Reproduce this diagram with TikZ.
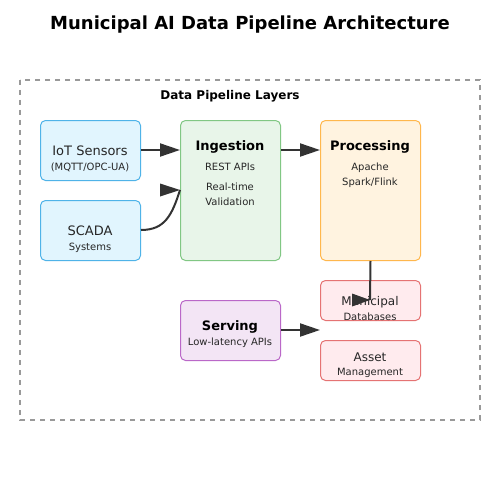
\documentclass[tikz,border=0pt]{standalone}
\usepackage{fontspec}
\setmainfont{DejaVu Sans}
\usetikzlibrary{arrows.meta}
\definecolor{arr}{HTML}{333333}
\definecolor{dashc}{HTML}{999999}
\definecolor{iotF}{HTML}{E1F5FE}\definecolor{iotD}{HTML}{4FB3E8}
\definecolor{ingF}{HTML}{E8F5E9}\definecolor{ingD}{HTML}{81C784}
\definecolor{proF}{HTML}{FFF3E0}\definecolor{proD}{HTML}{FFB74D}
\definecolor{dbF}{HTML}{FFEBEE}\definecolor{dbD}{HTML}{E57373}
\definecolor{srvF}{HTML}{F3E5F5}\definecolor{srvD}{HTML}{BA68C8}
\tikzset{
  boxst/.style={draw, line width=1pt, rounded corners=5pt, minimum width=100pt, inner sep=0pt, anchor=north west},
  txt/.style={anchor=base, inner sep=0pt, text=black!85},
  big/.style={txt, font=\fontsize{13}{15}\selectfont},
  mid/.style={txt, font=\fontsize{12}{14}\selectfont},
  small/.style={txt, font=\fontsize{10}{12}\selectfont},
  hd/.style={txt, text=black, font=\fontsize{13}{15}\selectfont\bfseries},
  conn/.style={draw=arr, line width=2pt},
  arrw/.style={conn, -{Triangle[length=20pt,width=13pt]}},
  headst/.style={fill=arr}
}
\begin{document}
\begin{tikzpicture}[x=1pt,y=-1pt]
\useasboundingbox (0,0) rectangle (500,500);
\fill[white] (0,0) rectangle (500,500);
\node[anchor=base, inner sep=0pt, font=\fontsize{18}{20}\selectfont\bfseries] (title) at (250,30) {Municipal AI Data Pipeline Architecture};
\draw[dashc, line width=1.5pt, dash pattern=on 5pt off 5pt] (20,80) rectangle (480,420);
\node[anchor=base, inner sep=0pt, font=\fontsize{12}{14}\selectfont\bfseries] (layers) at (230,100) {Data Pipeline Layers};
% boxes
\node[boxst, fill=iotF, draw=iotD, minimum height=60pt] (iot) at (40,120) {};
\node[boxst, fill=iotF, draw=iotD, minimum height=60pt] (scada) at (40,200) {};
\node[boxst, fill=ingF, draw=ingD, minimum height=140pt] (ing) at (180,120) {};
\node[boxst, fill=proF, draw=proD, minimum height=140pt] (proc) at (320,120) {};
\node[boxst, fill=dbF, draw=dbD, minimum height=40pt] (db) at (320,280) {};
\node[boxst, fill=dbF, draw=dbD, minimum height=40pt] (asset) at (320,340) {};
\node[boxst, fill=srvF, draw=srvD, minimum height=60pt] (serv) at (180,300) {};
% texts
\node[big] (t1) at (90,155) {IoT Sensors};
\node[small] (t2) at (90,170) {(MQTT/OPC-UA)};
\node[big] (t3) at (90,235) {SCADA};
\node[small] (t4) at (90,250) {Systems};
\node[hd] (t5) at (230,150) {Ingestion};
\node[small] (t6) at (230,170) {REST APIs};
\node[small] (t7) at (230,190) {Real-time};
\node[small] (t8) at (230,205) {Validation};
\node[hd] (t9) at (370,150) {Processing};
\node[small] (t10) at (370,170) {Apache};
\node[small] (t11) at (370,185) {Spark/Flink};
\node[mid] (t12) at (370,305) {Municipal};
\node[small] (t13) at (370,320) {Databases};
\node[mid] (t14) at (370,361) {Asset};
\node[small] (t15) at (370,375) {Management};
\node[hd] (t16) at (230,330) {Serving};
\node[small] (t17) at (230,345) {Low-latency APIs};
% connectors
\draw[arrw] (iot.east |- 0,150) -- (ing.west |- 0,150);
\draw[arrw] (ing.east |- 0,150) -- (proc.west |- 0,150);
\draw[arrw] (serv.east |- 0,330) -- (320,330);
\coordinate (sEnd) at (180,190);
\draw[conn] (scada.east |- 0,230) .. controls (165,230) and (172,215) .. (sEnd);
\fill[headst] (sEnd) -- ++(-20,-6.5) -- ++(0,13) -- cycle;
\coordinate (pEnd) at (370,300);
\draw[conn] (proc.south) -- (pEnd);
\fill[headst] (pEnd) -- ++(-18,-6.5) -- ++(0,13) -- cycle;
\end{tikzpicture}
\end{document}
